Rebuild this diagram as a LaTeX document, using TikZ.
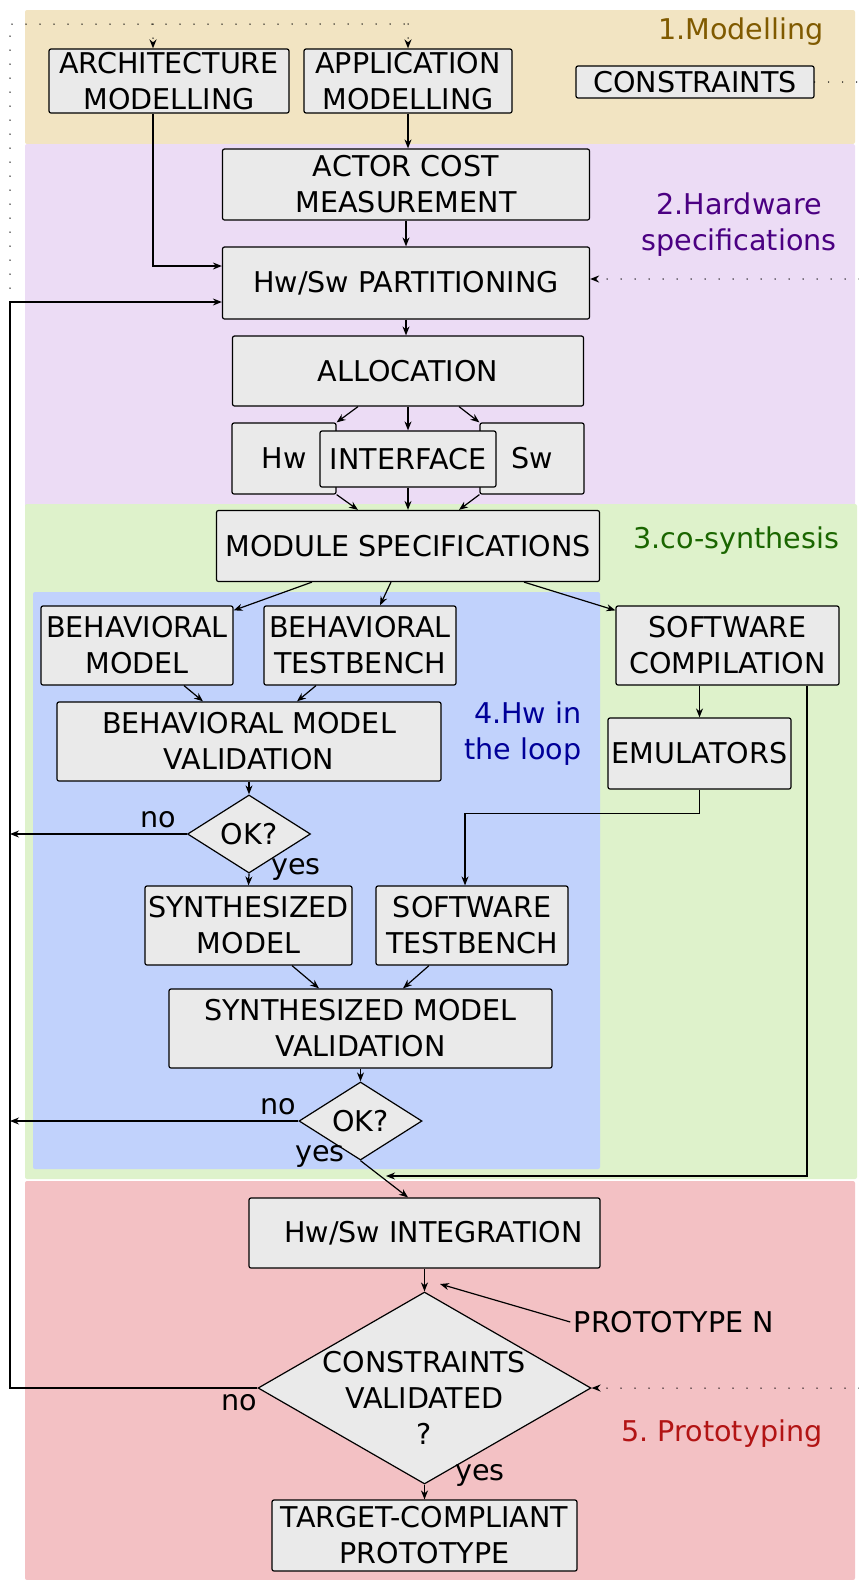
\documentclass[tikz,border=0pt]{standalone}
\usepackage{fontspec}
\setmainfont{DejaVu Sans}
\usetikzlibrary{arrows.meta,shapes.geometric}

\definecolor{boxgray}{RGB}{234,234,234}
\definecolor{bandtan}{RGB}{242,228,194}
\definecolor{bandlav}{RGB}{236,220,245}
\definecolor{bandgreen}{RGB}{222,242,203}
\definecolor{bandblue}{RGB}{193,210,252}
\definecolor{bandpink}{RGB}{243,193,196}
\definecolor{txtmodel}{RGB}{128,90,0}
\definecolor{txthw}{RGB}{75,0,130}
\definecolor{txtsyn}{RGB}{26,102,0}
\definecolor{txtloop}{RGB}{0,0,153}
\definecolor{txtproto}{RGB}{178,20,20}

\tikzset{
  blk/.style 2 args={draw, fill=boxgray, rounded corners=2pt, line width=1.2pt,
    align=center, inner sep=0pt, minimum width=#1, minimum height=#2},
  decision/.style 2 args={draw, fill=boxgray, diamond, line width=1.2pt,
    inner sep=0pt, minimum width=#1, minimum height=#2},
  flow/.style={line width=1.2pt, -{Stealth[length=9pt,width=7pt]}},
  dots/.style={line width=1.5pt, line cap=round, dash pattern=on 0pt off 14pt},
  dotflow/.style={dots, -{Stealth[length=9pt,width=7pt]}},
}

\begin{document}
\frenchspacing
\begin{tikzpicture}[x=1pt,y=-1pt,every node/.style={font=\fontsize{28.6}{36}\selectfont}]
\useasboundingbox (0,0) rectangle (859,1580);

% stage bands
\foreach \xa/\ya/\xb/\yb/\col in {25/10/855/144/bandtan,25/144/855/583/bandlav,
    25/504/857/1179/bandgreen,33/592/600/1169/bandblue,25/1181/855/1580/bandpink}
  \fill[\col, rounded corners=2pt] (\xa,\ya) rectangle (\xb,\yb);

\node[text=txtmodel] (stage1) at (741,32) {1.Modelling};
\node[text=txthw, align=center] (stage2) at (739,225) {2.Hardware\\specifications};
\node[text=txtsyn] (stage3) at (736,541) {3.co-synthesis};
\node[text=txtloop, align=right, anchor=east] (stage4) at (585,734) {4.Hw in\\the loop};
\node[text=txtproto] (stage5) at (722,1434) {5. Prototyping};

% modelling
\node[blk={240pt}{64pt}] (arch) at (169,81) {ARCHITECTURE\\MODELLING};
\node[blk={208pt}{64pt}] (app) at (408,81) {APPLICATION\\MODELLING};
\node[blk={238pt}{32pt}] (cons) at (695,82) {CONSTRAINTS};

% hardware specifications
\node[blk={367pt}{71pt}] (actor) at (406,184.5) {ACTOR COST\\MEASUREMENT};
\node[blk={367pt}{72pt}] (part) at (406,283) {Hw/Sw PARTITIONING};
\node[blk={351pt}{70pt}] (alloc) at (408,371) {ALLOCATION};
\node[blk={104pt}{71pt}] (hw) at (284,458.5) {Hw};
\node[blk={104pt}{71pt}] (sw) at (532,458.5) {Sw};
\node[blk={176pt}{56pt}] (iface) at (408,459) {INTERFACE};

% co-synthesis
\node[blk={383pt}{71pt}] (modspec) at (408,546) {MODULE SPECIFICATIONS};
\node[blk={192pt}{79pt}] (behmod) at (137,645.5) {BEHAVIORAL\\MODEL};
\node[blk={192pt}{79pt}] (behtb) at (360,645.5) {BEHAVIORAL\\TESTBENCH};
\node[blk={223pt}{79pt}] (swcomp) at (727.5,645.5) {SOFTWARE\\COMPILATION};
\node[blk={384pt}{79pt}] (bmv) at (249,741.5) {BEHAVIORAL MODEL\\VALIDATION};
\node[blk={183pt}{71pt}] (emu) at (699.5,753.5) {EMULATORS};
\node[decision={123pt}{69pt}] (ok1) at (249,834) {OK?};
\node[blk={207pt}{79pt}] (synmod) at (248.5,925.5) {SYNTHESIZED\\MODEL};
\node[blk={192pt}{79pt}] (swtb) at (472,925.5) {SOFTWARE\\TESTBENCH};
\node[blk={383pt}{79pt}] (smv) at (360.5,1028.5) {SYNTHESIZED MODEL\\VALIDATION};
\node[decision={123pt}{70pt}] (ok2) at (360.5,1121) {OK?};

% prototyping
\node[blk={351pt}{70pt}] (integ) at (424.5,1233) {\hspace{18pt}Hw/Sw INTEGRATION};
\node[decision={333pt}{192pt}] (cv) at (424.5,1388) {};
\node[align=center] (cvtext) at (424.5,1398) {CONSTRAINTS\\VALIDATED\\?};
\node (proto) at (674,1322) {PROTOTYPE N};
\node[blk={305pt}{71pt}] (target) at (424.5,1535.5) {TARGET-COMPLIANT\\PROTOTYPE};

% anchor points
\coordinate (fbtop) at (10,24);
\coordinate (fbmid) at (10,302);
\coordinate (archin) at ([xshift=-16pt]arch.north);
\coordinate (archout) at ([xshift=-16pt]arch.south);
\coordinate (partinA) at ([yshift=17pt]part.west);
\coordinate (partinB) at ([yshift=-19pt]part.west);
\coordinate (consA) at (859,82);
\coordinate (consB) at (859,279);
\coordinate (consC) at (859,1388);
\coordinate (fb1) at (10,834);
\coordinate (fb2) at (10,1121);
\coordinate (swjoin) at (386,1176);
\coordinate (protoin) at (440,1284);

% constraints and feedback (dotted)
\draw[dots] (fbmid) -- (fbtop) -- (app.north |- fbtop);
\draw[dotflow] (app.north |- fbtop) -- (app.north);
\draw[dotflow] (archin |- fbtop) -- (archin);
\draw[dots] (cons.east) -- (consA);
\draw[dotflow] (consB) -- (part.east |- consB);
\draw[dotflow] (consC) -- (cv.east);

% main flow
\draw[flow] (archout) |- (partinA);
\draw[flow] (app.south) -- (app.south |- actor.north);
\draw[flow] (actor.south) -- (part.north);
\draw[flow] (part.south) -- (part.south |- alloc.north);
\draw[flow] ([xshift=-50pt]alloc.south) -- (hw.north east);
\draw[flow] (alloc.south) -- (iface.north);
\draw[flow] ([xshift=51pt]alloc.south) -- (sw.north west);
\draw[flow] (hw.south east) -- ([xshift=-50pt]modspec.north);
\draw[flow] (iface.south) -- (modspec.north);
\draw[flow] (sw.south west) -- ([xshift=51pt]modspec.north);

\draw[flow] ([xshift=-96pt]modspec.south) -- ([yshift=-5pt]behmod.north east);
\draw[flow] ([xshift=-17pt]modspec.south) -- ([xshift=20pt]behtb.north);
\draw[flow] ([xshift=116pt]modspec.south) -- ([yshift=-5pt]swcomp.north west);
\draw[flow] ([xshift=47pt]behmod.south) -- ([xshift=-46pt]bmv.north);
\draw[flow] ([xshift=-44pt]behtb.south) -- ([xshift=48pt]bmv.north);
\draw[flow] (bmv.south) -- (ok1.north);
\draw[flow] (ok1.west) -- (fb1);
\node (no1) at (158,820) {no};
\draw[flow] (ok1.south) -- (synmod.north);
\node (yes1) at (296,869) {yes};
\draw[flow] (swcomp.south -| emu.north) -- (emu.north);
\draw[flow] (emu.south) -- ++(0,24) -| ([xshift=-7pt]swtb.north);
\draw[flow] ([xshift=43.5pt]synmod.south) -- ([xshift=-41.5pt]smv.north);
\draw[flow] ([xshift=-43pt]swtb.south) -- ([xshift=42.5pt]smv.north);
\draw[flow] (smv.south) -- (ok2.north);
\draw[flow] (ok2.west) -- (fb2);
\node (no2) at (278,1107) {no};
\draw[flow] (ok2.south) -- ([xshift=-16.5pt]integ.north);
\node (yes2) at (320,1156) {yes};
\draw[flow] ([xshift=79.5pt]swcomp.south) |- (swjoin);

\draw[flow] (integ.south) -- (cv.north);
\draw[flow] (proto.west) -- (protoin);
\draw[flow] (cv.west) -| (fbmid) -- (partinB);
\node (no3) at (239,1403) {no};
\draw[flow] (cv.south) -- (target.north);
\node (yes3) at (480,1475) {yes};

\end{tikzpicture}
\end{document}
